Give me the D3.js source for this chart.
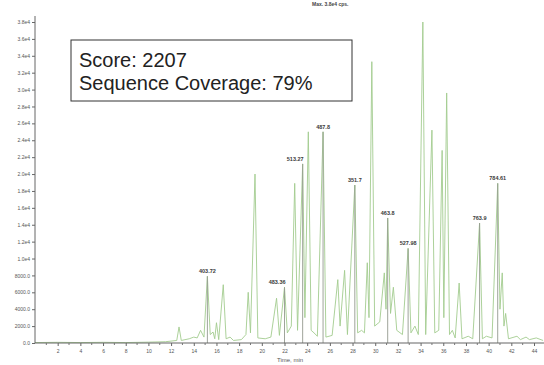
<!DOCTYPE html>
<html><head><meta charset="utf-8">
<script src="https://cdn.jsdelivr.net/npm/d3@7"></script>
<style>body{margin:0;background:#fff}svg{display:block}</style>
</head><body>
<script>
// ---- data ----
const traceTimes = [0,2,4,6,8,10,11.5,12.5,12.7,12.9,13.6,14.0,14.3,14.6,14.9,15.2,15.45,15.7,15.85,16.0,16.2,16.6,16.85,17.2,17.5,18.2,18.6,18.8,19.0,19.4,19.65,20.3,20.8,21.3,21.55,22.0,22.25,22.6,22.9,23.15,23.6,23.8,24.1,24.35,24.6,24.9,25.4,25.65,26.2,26.7,26.9,27.3,27.55,28.2,28.45,28.8,29.05,29.3,29.45,29.7,29.95,30.4,30.8,30.95,31.1,31.35,31.6,31.9,32.4,32.9,33.15,33.5,33.8,34.2,34.45,35.0,35.25,35.6,35.9,36.05,36.3,36.55,36.8,37.05,37.4,37.65,38.2,38.6,39.2,39.45,39.8,40.3,40.8,41.0,41.2,41.35,41.5,41.75,42.5,42.8,43.3,43.6,44.2,44.8];
const traceValues = [50,80,50,80,50,100,150,300,1900,300,500,700,600,1500,700,7900,1000,1300,500,2400,400,6900,500,700,300,400,1000,6000,1200,20000,600,500,700,5300,900,6600,1200,2000,18900,1500,21200,3000,25000,1500,1200,800,25000,700,900,7500,2000,8600,1000,18700,1200,1500,1200,9500,3000,33300,2000,2500,8300,4000,14800,3500,6600,1500,1000,11200,1200,2000,1000,38000,1000,25200,1200,1500,22800,3000,29600,1000,1500,600,7100,500,800,500,14200,500,800,600,18900,4000,8300,2000,3500,500,800,400,700,400,600,300];
const labelTimes = [15.2,22.0,23.6,25.4,28.2,31.1,32.9,39.2,40.8];
const labelValues = [7900,6600,21200,25000,18700,14800,11200,14200,18900];
const labelTexts = ["403.72","483.36","513.27","487.8","351.7","463.8","527.98","763.9","784.61"];
const yTickValues = [0,2000,4000,6000,8000,10000,12000,14000,16000,18000,20000,22000,24000,26000,28000,30000,32000,34000,36000,38000];
const yTickLabels = ["0.0","2000.0","4000.0","6000.0","8000.0","1.0e4","1.2e4","1.4e4","1.6e4","1.8e4","2.0e4","2.2e4","2.4e4","2.6e4","2.8e4","3.0e4","3.2e4","3.4e4","3.6e4","3.8e4"];
const xTickValues = [2,4,6,8,10,12,14,16,18,20,22,24,26,28,30,32,34,36,38,40,42,44];
const scoreText = "Score: 2207";
const coverageText = "Sequence Coverage: 79%";
const xTitle = "Time, min";
const topTitle = "Max. 3.8e4 cps.";

// ---- drawing ----
const W = 544, H = 365;
const FONT = "Liberation Sans, Arial, sans-serif";
const svg = d3.select("body").append("svg").attr("width", W).attr("height", H);
const x = d3.scaleLinear().domain([0, 44]).range([35, 534]);
const y = d3.scaleLinear().domain([0, 38000]).range([343, 22]);

// trace
const pts = traceTimes.map((t, i) => [t, traceValues[i]]);
svg.append("path")
  .attr("d", d3.line().x(d => x(d[0])).y(d => y(d[1]))(pts))
  .attr("fill", "none").attr("stroke", "#a3cc8f").attr("stroke-width", 0.9);

// labelled peaks (gray sticks)
labelTimes.forEach((t, i) => {
  svg.append("line")
    .attr("x1", x(t)).attr("x2", x(t))
    .attr("y1", y(0)).attr("y2", y(labelValues[i]))
    .attr("stroke", "#949a90").attr("stroke-width", 0.9);
});
const endAnchored = new Set(["483.36", "513.27"]);
labelTexts.forEach((s, i) => {
  const ea = endAnchored.has(s);
  svg.append("text")
    .attr("x", x(labelTimes[i]) + (ea ? 1 : 0))
    .attr("y", y(labelValues[i]) - 3)
    .attr("text-anchor", ea ? "end" : "middle")
    .attr("font-family", FONT)
    .attr("font-size", 5.5).attr("font-weight", "bold")
    .attr("fill", "#3a3a3a").text(s);
});

// y axis
const yAxis = d3.axisLeft(y).tickValues(yTickValues)
  .tickFormat((d, i) => yTickLabels[i]).tickSize(3).tickPadding(2);
const gy = svg.append("g").attr("transform", "translate(35,0)").call(yAxis);
gy.select(".domain").attr("d", `M0,${y(0)}V16`).attr("stroke", "#666");
gy.selectAll("line").attr("stroke", "#666");
gy.selectAll("text").attr("font-size", 5).attr("font-family", FONT).attr("fill", "#555");

// x axis
const xAxis = d3.axisBottom(x).tickValues(xTickValues).tickSize(3).tickPadding(3);
const gx = svg.append("g").attr("transform", `translate(0,${y(0)})`).call(xAxis);
gx.select(".domain").attr("d", `M35,0H544`).attr("stroke", "#666").attr("stroke-width", 1.2);
gx.selectAll("line").attr("stroke", "#666");
gx.selectAll("text").attr("font-size", 5).attr("font-family", FONT).attr("fill", "#555");
// minor x ticks
const minor = d3.range(1, 45, 2);
svg.append("g").selectAll("line").data(minor).join("line")
  .attr("x1", d => x(d)).attr("x2", d => x(d))
  .attr("y1", y(0)).attr("y2", y(0) + 2).attr("stroke", "#777");

svg.append("text").attr("x", 277).attr("y", 362)
  .attr("font-family", FONT).attr("font-size", 6)
  .attr("fill", "#555").text(xTitle);
svg.append("text").attr("x", 312).attr("y", 6)
  .attr("font-family", FONT).attr("font-size", 5)
  .attr("font-weight", "bold").attr("fill", "#444").text(topTitle);

// info box
svg.append("rect").attr("x", 71).attr("y", 40).attr("width", 281).attr("height", 61)
  .attr("fill", "#fff").attr("stroke", "#333").attr("stroke-width", 1);
svg.append("text").attr("x", 79).attr("y", 67)
  .attr("font-family", FONT).attr("font-size", 20)
  .attr("fill", "#222").text(scoreText);
svg.append("text").attr("x", 79).attr("y", 90)
  .attr("font-family", FONT).attr("font-size", 20)
  .attr("fill", "#222").text(coverageText);
</script>
</body></html>
